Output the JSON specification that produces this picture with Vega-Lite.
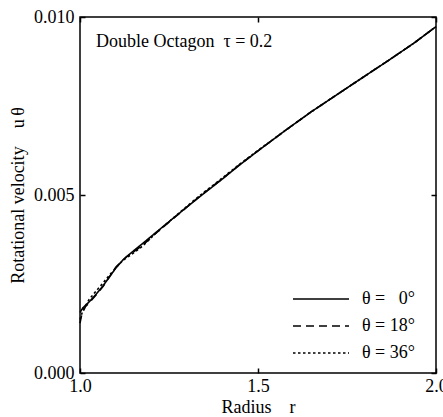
{
  "$schema": "https://vega.github.io/schema/vega-lite/v6.json",
  "autosize": "none",
  "width": 356,
  "height": 356,
  "padding": {"left": 80, "top": 17, "right": 7, "bottom": 44},
  "background": "white",
  "config": {
    "font": "Liberation Serif",
    "view": {"stroke": "black", "strokeWidth": 1.5},
    "axis": {"grid": false, "domain": false, "labelFont": "Liberation Serif", "titleFont": "Liberation Serif", "labelFontSize": 18, "titleFontSize": 18, "labelColor": "black", "titleColor": "black", "titleFontWeight": "normal", "tickColor": "black", "tickWidth": 1.5}
  },
  "datasets": {
    "curves": [
      {"r": 1.000, "u": 0.00170, "theta": "θ = \u20070°"},
      {"r": 1.008, "u": 0.00183, "theta": "θ = \u20070°"},
      {"r": 1.026, "u": 0.00200, "theta": "θ = \u20070°"},
      {"r": 1.045, "u": 0.00221, "theta": "θ = \u20070°"},
      {"r": 1.064, "u": 0.00244, "theta": "θ = \u20070°"},
      {"r": 1.082, "u": 0.00269, "theta": "θ = \u20070°"},
      {"r": 1.101, "u": 0.00295, "theta": "θ = \u20070°"},
      {"r": 1.120, "u": 0.00317, "theta": "θ = \u20070°"},
      {"r": 1.143, "u": 0.00337, "theta": "θ = \u20070°"},
      {"r": 1.175, "u": 0.00363, "theta": "θ = \u20070°"},
      {"r": 1.210, "u": 0.00392, "theta": "θ = \u20070°"},
      {"r": 1.250, "u": 0.00425, "theta": "θ = \u20070°"},
      {"r": 1.300, "u": 0.00466, "theta": "θ = \u20070°"},
      {"r": 1.336, "u": 0.00495, "theta": "θ = \u20070°"},
      {"r": 1.400, "u": 0.00545, "theta": "θ = \u20070°"},
      {"r": 1.448, "u": 0.00584, "theta": "θ = \u20070°"},
      {"r": 1.500, "u": 0.00624, "theta": "θ = \u20070°"},
      {"r": 1.579, "u": 0.00683, "theta": "θ = \u20070°"},
      {"r": 1.650, "u": 0.00734, "theta": "θ = \u20070°"},
      {"r": 1.728, "u": 0.00786, "theta": "θ = \u20070°"},
      {"r": 1.800, "u": 0.00834, "theta": "θ = \u20070°"},
      {"r": 1.868, "u": 0.00879, "theta": "θ = \u20070°"},
      {"r": 1.940, "u": 0.00928, "theta": "θ = \u20070°"},
      {"r": 2.000, "u": 0.00973, "theta": "θ = \u20070°"},

      {"r": 1.000, "u": 0.00140, "theta": "θ = 18°"},
      {"r": 1.005, "u": 0.00165, "theta": "θ = 18°"},
      {"r": 1.015, "u": 0.00186, "theta": "θ = 18°"},
      {"r": 1.030, "u": 0.00202, "theta": "θ = 18°"},
      {"r": 1.045, "u": 0.00219, "theta": "θ = 18°"},
      {"r": 1.064, "u": 0.00242, "theta": "θ = 18°"},
      {"r": 1.082, "u": 0.00269, "theta": "θ = 18°"},
      {"r": 1.101, "u": 0.00298, "theta": "θ = 18°"},
      {"r": 1.130, "u": 0.00326, "theta": "θ = 18°"},
      {"r": 1.143, "u": 0.00335, "theta": "θ = 18°"},
      {"r": 1.175, "u": 0.00358, "theta": "θ = 18°"},
      {"r": 1.210, "u": 0.00390, "theta": "θ = 18°"},
      {"r": 1.250, "u": 0.00424, "theta": "θ = 18°"},
      {"r": 1.300, "u": 0.00466, "theta": "θ = 18°"},
      {"r": 1.336, "u": 0.00496, "theta": "θ = 18°"},
      {"r": 1.400, "u": 0.00546, "theta": "θ = 18°"},
      {"r": 1.448, "u": 0.00585, "theta": "θ = 18°"},
      {"r": 1.500, "u": 0.00624, "theta": "θ = 18°"},
      {"r": 1.579, "u": 0.00683, "theta": "θ = 18°"},
      {"r": 1.650, "u": 0.00734, "theta": "θ = 18°"},
      {"r": 1.728, "u": 0.00786, "theta": "θ = 18°"},
      {"r": 1.800, "u": 0.00834, "theta": "θ = 18°"},
      {"r": 1.868, "u": 0.00879, "theta": "θ = 18°"},
      {"r": 1.940, "u": 0.00928, "theta": "θ = 18°"},
      {"r": 2.000, "u": 0.00973, "theta": "θ = 18°"},

      {"r": 1.000, "u": 0.00150, "theta": "θ = 36°"},
      {"r": 1.008, "u": 0.00176, "theta": "θ = 36°"},
      {"r": 1.026, "u": 0.00207, "theta": "θ = 36°"},
      {"r": 1.045, "u": 0.00230, "theta": "θ = 36°"},
      {"r": 1.064, "u": 0.00252, "theta": "θ = 36°"},
      {"r": 1.082, "u": 0.00274, "theta": "θ = 36°"},
      {"r": 1.101, "u": 0.00296, "theta": "θ = 36°"},
      {"r": 1.120, "u": 0.00316, "theta": "θ = 36°"},
      {"r": 1.143, "u": 0.00332, "theta": "θ = 36°"},
      {"r": 1.175, "u": 0.00356, "theta": "θ = 36°"},
      {"r": 1.210, "u": 0.00390, "theta": "θ = 36°"},
      {"r": 1.250, "u": 0.00425, "theta": "θ = 36°"},
      {"r": 1.300, "u": 0.00468, "theta": "θ = 36°"},
      {"r": 1.336, "u": 0.00498, "theta": "θ = 36°"},
      {"r": 1.400, "u": 0.00548, "theta": "θ = 36°"},
      {"r": 1.448, "u": 0.00586, "theta": "θ = 36°"},
      {"r": 1.500, "u": 0.00625, "theta": "θ = 36°"},
      {"r": 1.579, "u": 0.00683, "theta": "θ = 36°"},
      {"r": 1.650, "u": 0.00734, "theta": "θ = 36°"},
      {"r": 1.728, "u": 0.00786, "theta": "θ = 36°"},
      {"r": 1.800, "u": 0.00834, "theta": "θ = 36°"},
      {"r": 1.868, "u": 0.00879, "theta": "θ = 36°"},
      {"r": 1.940, "u": 0.00928, "theta": "θ = 36°"},
      {"r": 2.000, "u": 0.00973, "theta": "θ = 36°"}
    ],
    "note": [{"label": "Double Octagon\u00a0\u00a0τ = 0.2"}]
  },
  "resolve": {"axis": {"x": "independent", "y": "independent"}},
  "layer": [
    {
      "data": {"name": "curves"},
      "mark": {"type": "line", "color": "black", "strokeWidth": 1.6},
      "encoding": {
        "x": {"field": "r", "type": "quantitative",
          "scale": {"domain": [1, 2], "nice": false, "zero": false},
          "axis": {"values": [1, 1.5, 2], "format": ".1f", "tickSize": -5, "labelPadding": 9, "labelFlush": false, "title": "Radius\u00a0\u00a0\u00a0\u00a0r", "titlePadding": 3}},
        "y": {"field": "u", "type": "quantitative",
          "scale": {"domain": [0, 0.01], "nice": false, "zero": false},
          "axis": {"values": [0, 0.005, 0.01], "format": ".3f", "tickSize": -5, "labelPadding": 11, "title": "Rotational velocity\u00a0\u00a0\u00a0 u\u2009θ", "titlePadding": 6}},
        "strokeDash": {"field": "theta", "type": "nominal",
          "scale": {"domain": ["θ = \u20070°", "θ = 18°", "θ = 36°"], "range": [[1, 0], [8, 5], [2.5, 2.5]]},
          "legend": {"title": null, "orient": "none", "legendX": 212, "legendY": 274, "padding": 0, "symbolSize": 3136, "symbolStrokeWidth": 1.6, "symbolStrokeColor": "black", "clipHeight": 16, "rowPadding": 9, "labelOffset": 12, "labelFontSize": 18, "labelFont": "Liberation Serif", "labelColor": "black"}}
      }
    },
    {
      "data": {"name": "note"},
      "mark": {"type": "text", "align": "left", "baseline": "alphabetic", "fontSize": 18, "font": "Liberation Serif", "color": "black"},
      "encoding": {
        "text": {"field": "label", "type": "nominal"},
        "x": {"datum": 1.045, "type": "quantitative", "axis": {"orient": "top", "values": [1, 1.5, 2], "labels": false, "title": null, "tickSize": -5}},
        "y": {"datum": 0.00916, "type": "quantitative", "axis": {"orient": "right", "values": [0, 0.005, 0.01], "labels": false, "title": null, "tickSize": -5}}
      }
    }
  ]
}
